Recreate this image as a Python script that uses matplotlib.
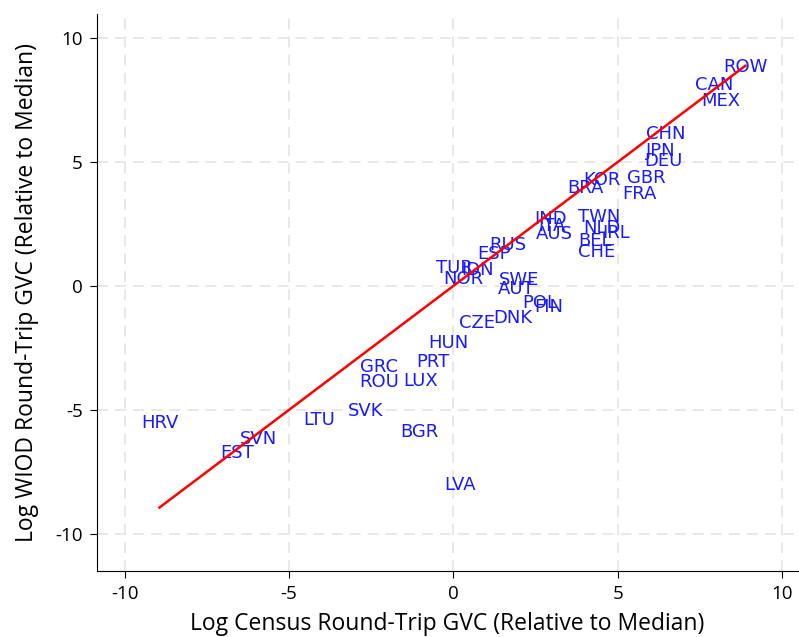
import numpy as np
import matplotlib.pyplot as plt

plt.rcParams['font.family'] = ['Open Sans', 'DejaVu Sans']
plt.rcParams['axes.unicode_minus'] = False

countries = ['ROW', 'CAN', 'MEX', 'CHN', 'JPN', 'DEU', 'KOR', 'GBR', 'BRA', 'FRA',
             'TWN', 'IND', 'ITA', 'NLD', 'IRL', 'AUS', 'BEL', 'CHE', 'RUS', 'ESP',
             'TUR', 'IDN', 'NOR', 'SWE', 'AUT', 'POL', 'FIN', 'DNK', 'CZE', 'HUN',
             'PRT', 'GRC', 'ROU', 'LUX', 'SVK', 'LTU', 'BGR', 'HRV', 'SVN', 'EST', 'LVA']
census = [8.88, 7.93, 8.15, 6.47, 6.32, 6.38, 4.53, 5.87, 4.01, 5.65,
          4.44, 2.95, 3.01, 4.53, 4.95, 3.07, 4.32, 4.35, 1.67, 1.25,
          0.03, 0.73, 0.30, 2.01, 1.91, 2.64, 2.89, 1.82, 0.73, -0.15,
          -0.61, -2.25, -2.25, -1.00, -2.67, -4.07, -1.03, -8.94, -5.93, -6.57, 0.21]
wiod = [8.83, 8.10, 7.46, 6.13, 5.44, 5.04, 4.27, 4.35, 3.95, 3.71,
        2.78, 2.70, 2.42, 2.34, 2.14, 2.10, 1.81, 1.37, 1.65, 1.29,
        0.73, 0.65, 0.28, 0.24, -0.12, -0.69, -0.85, -1.29, -1.49, -2.30,
        -3.06, -3.27, -3.87, -3.83, -5.04, -5.40, -5.89, -5.52, -6.17, -6.73, -8.02]

x = np.array(census)
y = np.array(wiod)

fig = plt.figure(figsize=(7.99, 6.37), dpi=100)
ax = fig.add_axes([0.121, 0.104, 0.878, 0.874])

for name, cx, cy in zip(countries, x, y):
    ax.text(cx, cy, name, color='#1a1aff', fontsize=13, family='DejaVu Sans',
            ha='center', va='center', zorder=3)

# 45 degree line over the range of the data
xs = np.array([x.min(), x.max()])
ax.plot(xs, xs, color='red', lw=1.8, zorder=4)

ax.set_xlim(-10.85, 10.49)
ax.set_ylim(-11.49, 10.97)
ax.set_xticks([-10, -5, 0, 5, 10])
ax.set_yticks([-10, -5, 0, 5, 10])
ax.grid(True, color='#e6e6e6', linestyle=(0, (6, 4)), linewidth=1.3)
ax.set_axisbelow(True)
ax.spines['top'].set_visible(False)
ax.spines['right'].set_visible(False)
ax.tick_params(labelsize=13.5, length=5, direction='out', pad=5)
ax.set_xlabel('Log Census Round-Trip GVC (Relative to Median)', fontsize=16.5, labelpad=7)
ax.set_ylabel('Log WIOD Round-Trip GVC (Relative to Median)', fontsize=16.5, labelpad=12)

fig.savefig('out.png', dpi=100)
